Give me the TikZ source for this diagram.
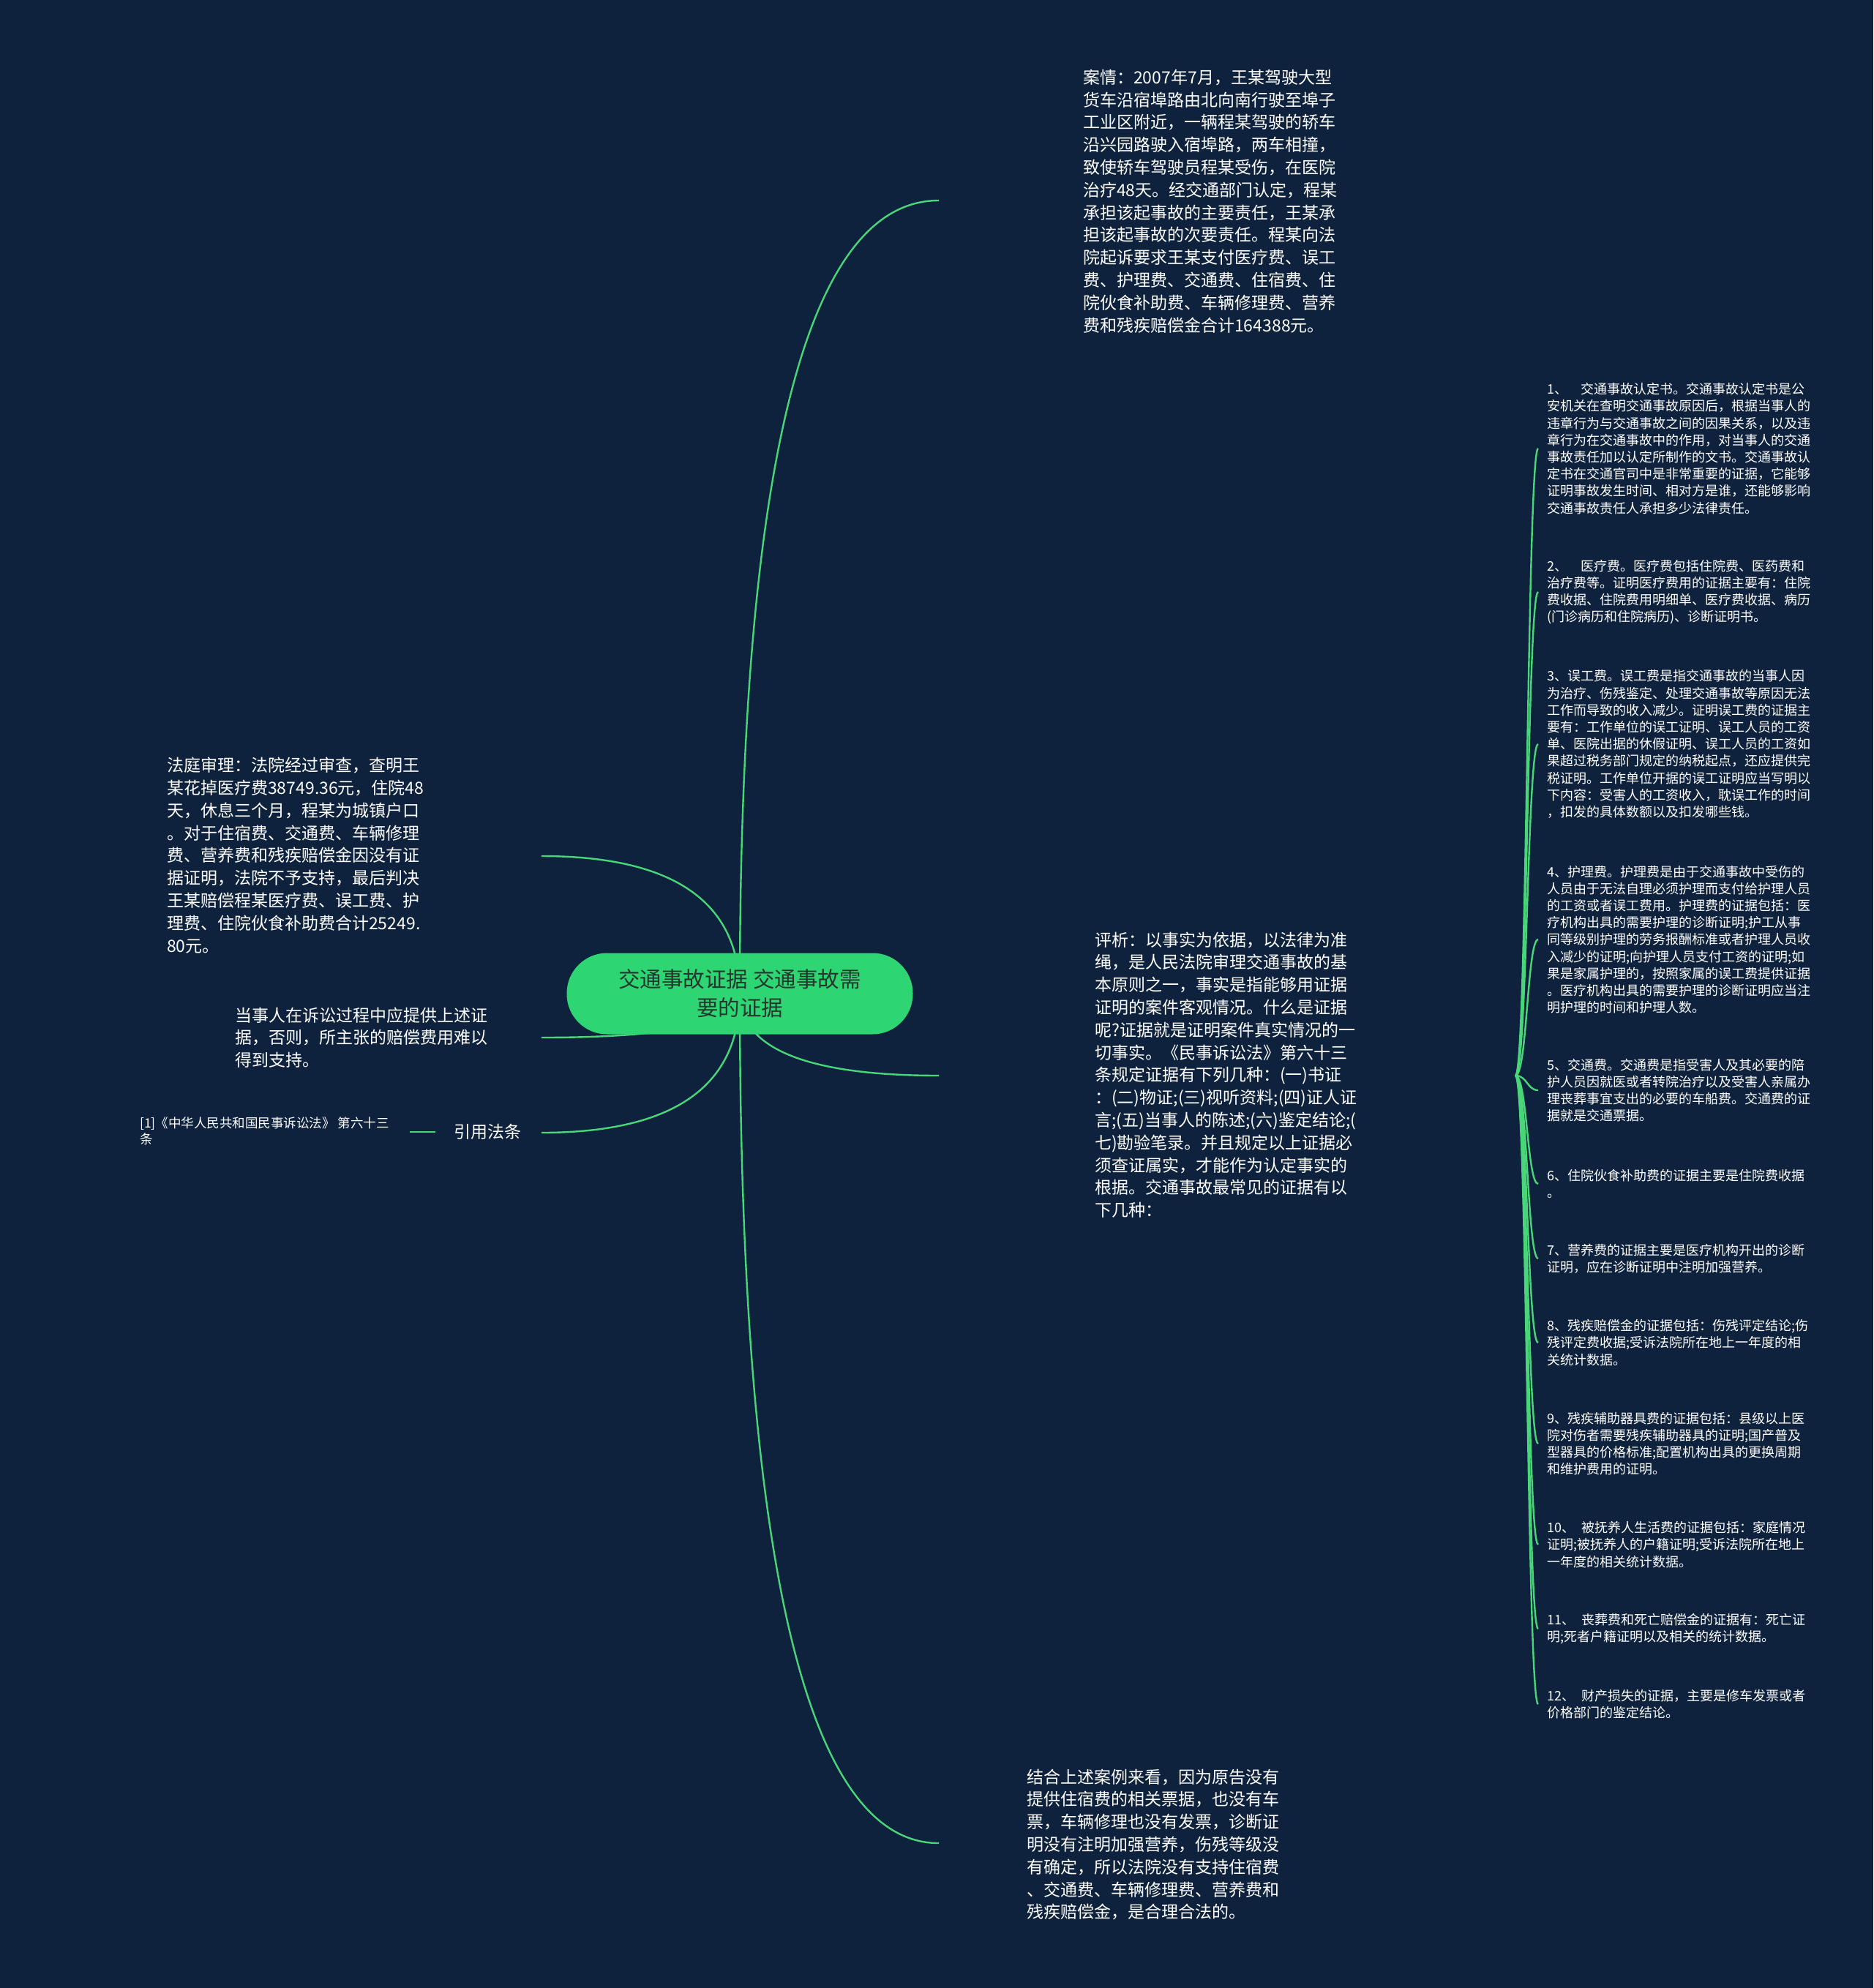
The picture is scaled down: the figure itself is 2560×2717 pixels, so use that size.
\documentclass[tikz,border=0pt]{standalone}
\usepackage{fontspec}
\setmainfont{Noto Sans CJK SC}
\usetikzlibrary{calc}
\definecolor{bgc}{RGB}{14,34,62}
\definecolor{lnc}{RGB}{72,214,120}
\definecolor{ctrc}{RGB}{46,213,115}
\definecolor{ctrtxt}{RGB}{35,55,45}
\pgfdeclarelayer{bglayer}
\pgfdeclarelayer{linelayer}
\pgfsetlayers{bglayer,linelayer,main}
\begin{document}
\begin{tikzpicture}[x=1pt,y=-1pt,
  bigtext/.style={font=\fontsize{23}{30.8}\selectfont, text=white, align=left, anchor=west, inner sep=0pt},
  smalltext/.style={font=\fontsize{18}{23.2}\selectfont, text=white, align=left, anchor=west, inner sep=0pt},
  conn/.style={draw=lnc, line width=2.4pt},
  hub/.style={fill=ctrc, rounded corners=55pt, minimum width=473pt, minimum height=111pt, inner sep=0pt,
    text=ctrtxt, align=center, font=\fontsize{29.5}{39}\selectfont},
]
\begin{pgfonlayer}{bglayer}
\fill[bgc] (0,0) rectangle (2560,2717);
\end{pgfonlayer}
\useasboundingbox (0,0) rectangle (2560,2717);

% central node
\node[hub] (center) at (1011,1358) {交通事故证据 交通事故需\\要的证据};

% end points of main branches
\coordinate (eCase) at (1283,274);
\coordinate (eCourt) at (740,1170);
\coordinate (eParty) at (740,1418);
\coordinate (eLaw) at (740,1548);
\coordinate (eAna) at (1283,1470);
\coordinate (eConc) at (1283,2519);

% texts of main branches
\node[bigtext] (case) at (1480,275) {案情：2007年7月，王某驾驶大型\\货车沿宿埠路由北向南行驶至埠子\\工业区附近，一辆程某驾驶的轿车\\沿兴园路驶入宿埠路，两车相撞，\\致使轿车驾驶员程某受伤，在医院\\治疗48天。经交通部门认定，程某\\承担该起事故的主要责任，王某承\\担该起事故的次要责任。程某向法\\院起诉要求王某支付医疗费、误工\\费、护理费、交通费、住宿费、住\\院伙食补助费、车辆修理费、营养\\费和残疾赔偿金合计164388元。};

\node[bigtext] (ana) at (1496,1469) {评析：以事实为依据，以法律为准\\绳，是人民法院审理交通事故的基\\本原则之一，事实是指能够用证据\\证明的案件客观情况。什么是证据\\呢?证据就是证明案件真实情况的一\\切事实。《民事诉讼法》第六十三\\条规定证据有下列几种：(一)书证\\：(二)物证;(三)视听资料;(四)证人证\\言;(五)当事人的陈述;(六)鉴定结论;(\\七)勘验笔录。并且规定以上证据必\\须查证属实，才能作为认定事实的\\根据。交通事故最常见的证据有以\\下几种：};

\node[bigtext] (conc) at (1403,2521) {结合上述案例来看，因为原告没有\\提供住宿费的相关票据，也没有车\\票，车辆修理也没有发票，诊断证\\明没有注明加强营养，伤残等级没\\有确定，所以法院没有支持住宿费\\、交通费、车辆修理费、营养费和\\残疾赔偿金，是合理合法的。};

\node[bigtext] (court) at (228,1169) {法庭审理：法院经过审查，查明王\\某花掉医疗费38749.36元，住院48\\天，休息三个月，程某为城镇户口\\。对于住宿费、交通费、车辆修理\\费、营养费和残疾赔偿金因没有证\\据证明，法院不予支持，最后判决\\王某赔偿程某医疗费、误工费、护\\理费、住院伙食补助费合计25249.\\80元。};

\node[bigtext] (party) at (321,1418) {当事人在诉讼过程中应提供上述证\\据，否则，所主张的赔偿费用难以\\得到支持。};

\node[bigtext] (law) at (620,1547) {引用法条};
\coordinate (lawA) at (595,1547);
\coordinate (lawB) at (560,1547);
\node[smalltext, font=\fontsize{17.5}{22}\selectfont] (ref) at (191,1546) {[1]《中华人民共和国民事诉讼法》 第六十三\\条};

% evidence items
\coordinate (fanS) at (2071,1470);
\foreach \n/\yy in {1/613,2/809,3/1017,4/1284,5/1490,6/1618,7/1720,8/1835,9/1973,10/2111,11/2226,12/2329}{
  \coordinate (e\n) at (2102,\yy);
}
\node[smalltext] (i1) at (2114,613) {1、\quad 交通事故认定书。交通事故认定书是公\\安机关在查明交通事故原因后，根据当事人的\\违章行为与交通事故之间的因果关系，以及违\\章行为在交通事故中的作用，对当事人的交通\\事故责任加以认定所制作的文书。交通事故认\\定书在交通官司中是非常重要的证据，它能够\\证明事故发生时间、相对方是谁，还能够影响\\交通事故责任人承担多少法律责任。};
\node[smalltext] (i2) at (2114,809) {2、\quad 医疗费。医疗费包括住院费、医药费和\\治疗费等。证明医疗费用的证据主要有：住院\\费收据、住院费用明细单、医疗费收据、病历\\(门诊病历和住院病历)、诊断证明书。};
\node[smalltext] (i3) at (2114,1017) {3、误工费。误工费是指交通事故的当事人因\\为治疗、伤残鉴定、处理交通事故等原因无法\\工作而导致的收入减少。证明误工费的证据主\\要有：工作单位的误工证明、误工人员的工资\\单、医院出据的休假证明、误工人员的工资如\\果超过税务部门规定的纳税起点，还应提供完\\税证明。工作单位开据的误工证明应当写明以\\下内容：受害人的工资收入，耽误工作的时间\\，扣发的具体数额以及扣发哪些钱。};
\node[smalltext] (i4) at (2114,1284) {4、护理费。护理费是由于交通事故中受伤的\\人员由于无法自理必须护理而支付给护理人员\\的工资或者误工费用。护理费的证据包括：医\\疗机构出具的需要护理的诊断证明;护工从事\\同等级别护理的劳务报酬标准或者护理人员收\\入减少的证明;向护理人员支付工资的证明;如\\果是家属护理的，按照家属的误工费提供证据\\。医疗机构出具的需要护理的诊断证明应当注\\明护理的时间和护理人数。};
\node[smalltext] (i5) at (2114,1490) {5、交通费。交通费是指受害人及其必要的陪\\护人员因就医或者转院治疗以及受害人亲属办\\理丧葬事宜支出的必要的车船费。交通费的证\\据就是交通票据。};
\node[smalltext] (i6) at (2114,1618) {6、住院伙食补助费的证据主要是住院费收据\\。};
\node[smalltext] (i7) at (2114,1720) {7、营养费的证据主要是医疗机构开出的诊断\\证明，应在诊断证明中注明加强营养。};
\node[smalltext] (i8) at (2114,1835) {8、残疾赔偿金的证据包括：伤残评定结论;伤\\残评定费收据;受诉法院所在地上一年度的相\\关统计数据。};
\node[smalltext] (i9) at (2114,1973) {9、残疾辅助器具费的证据包括：县级以上医\\院对伤者需要残疾辅助器具的证明;国产普及\\型器具的价格标准;配置机构出具的更换周期\\和维护费用的证明。};
\node[smalltext] (i10) at (2114,2111) {10、\enspace 被抚养人生活费的证据包括：家庭情况\\证明;被抚养人的户籍证明;受诉法院所在地上\\一年度的相关统计数据。};
\node[smalltext] (i11) at (2114,2226) {11、\enspace 丧葬费和死亡赔偿金的证据有：死亡证\\明;死者户籍证明以及相关的统计数据。};
\node[smalltext] (i12) at (2114,2329) {12、\enspace 财产损失的证据，主要是修车发票或者\\价格部门的鉴定结论。};

% connectors
\begin{pgfonlayer}{linelayer}
\foreach \e in {eCase,eCourt,eParty,eLaw,eAna,eConc}{
  \draw[conn] (center.center) .. controls ($(center.center)!0.667!(center.center|-\e)$) and ($(\e)!0.667!(center.center|-\e)$) .. (\e);
}
\draw[conn] (lawA) -- (lawB);
\foreach \n in {1,...,12}{
  \draw[conn] (fanS) .. controls ($(fanS)+(16,0)$) and ($(fanS|-e\n)+(16,0)$) .. (e\n);
}
\end{pgfonlayer}
\end{tikzpicture}
\end{document}
